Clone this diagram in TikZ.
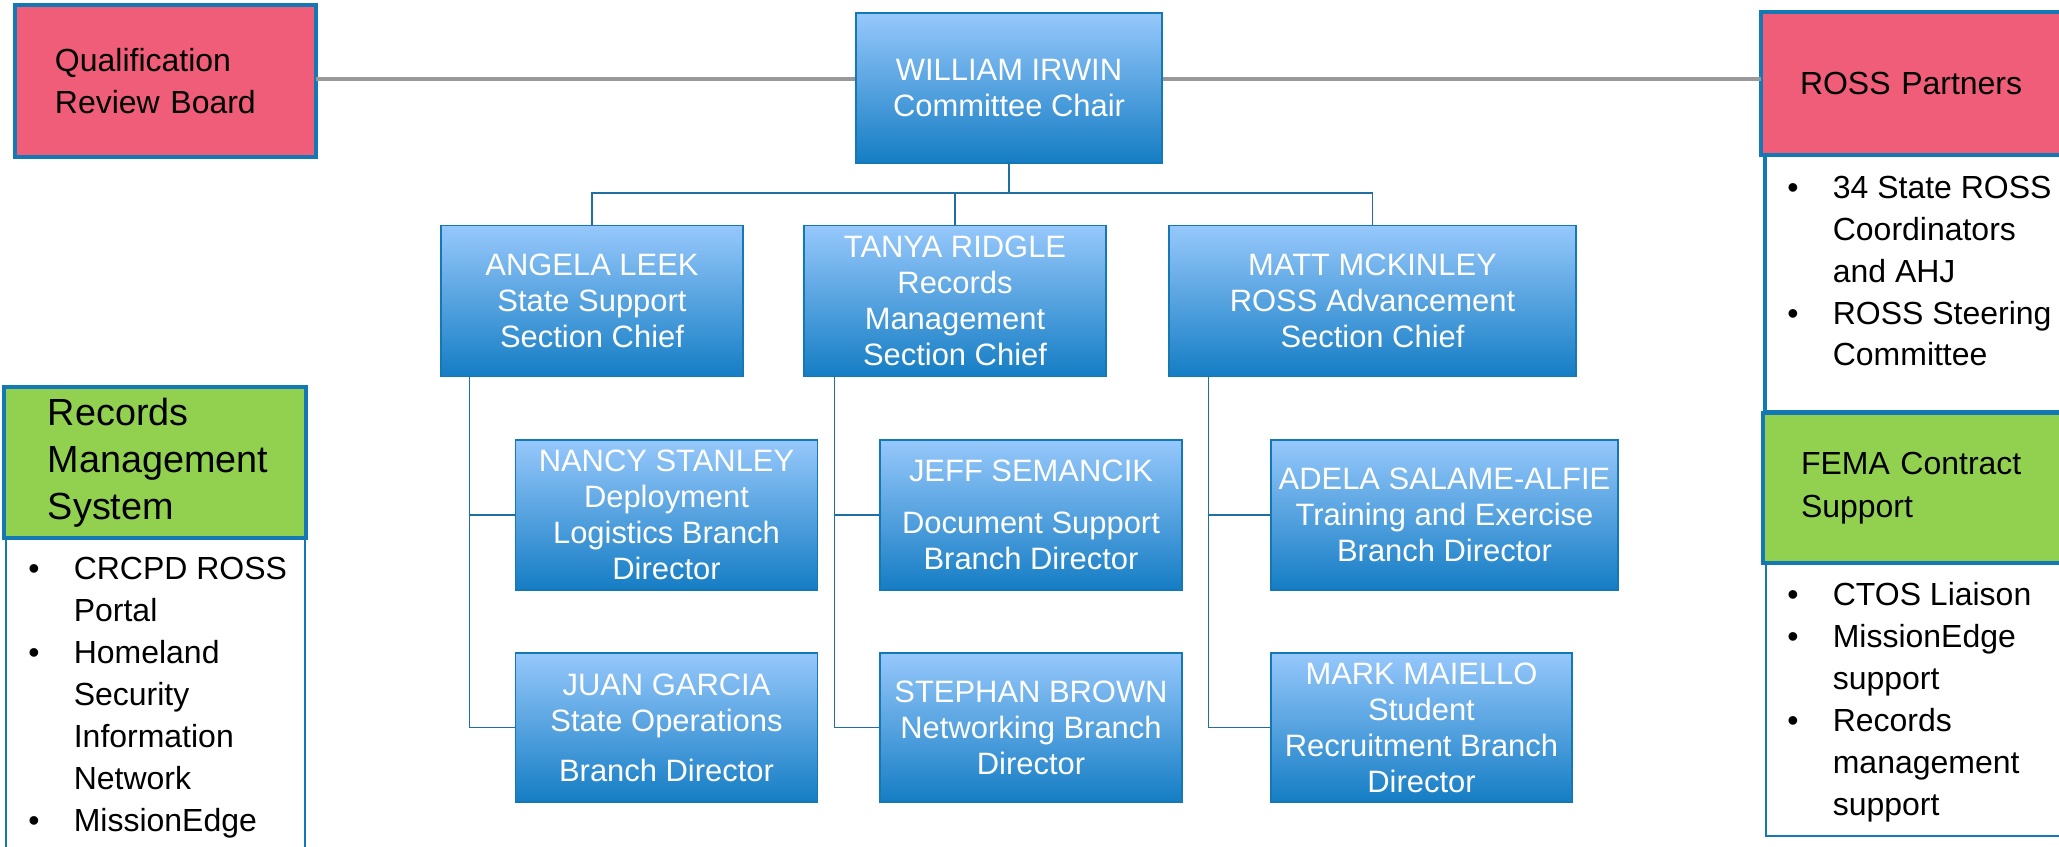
\documentclass[tikz,border=0pt]{standalone}
\usepackage{fontspec}
\setmainfont{Liberation Sans}
\definecolor{pinkbox}{HTML}{EF5D78}
\definecolor{greenbox}{HTML}{92D050}
\definecolor{frameblue}{HTML}{1478B4}
\definecolor{bluetop}{HTML}{96C8FB}
\definecolor{bluebot}{HTML}{157DC4}
\definecolor{linkblue}{HTML}{1F6FA3}
\definecolor{barline}{HTML}{999999}
\newcommand{\bul}{\makebox[0.91cm][l]{\textbullet}}
\newcommand{\ind}{\hspace*{0.91cm}}

\begin{document}
\begin{tikzpicture}[x=0.02cm,y=-0.02cm,
    link/.style={draw=linkblue, line width=1pt},
    grayline/.style={draw=barline, line width=2.3pt},
    listtext/.style={anchor=base west, align=left, inner sep=0pt,
      font=\fontsize{18.2}{23.9}\selectfont}]

  \useasboundingbox (0,0) rectangle (2059,847);
  \clip (0,0) rectangle (2059,847);

  % side boxes
  \begin{scope}[every node/.style={draw=frameblue, line width=2pt, anchor=north west,
      outer sep=0pt, inner ysep=0pt, align=left, font=\fontsize{18.2}{23.6}\selectfont}]
    \node (rosslist) at (1765,155) [fill=white, minimum width=6.2cm, minimum height=5.14cm] {};
    \node (femalist) at (1766,563) [fill=white, line width=0.8pt, minimum width=6.2cm, minimum height=5.46cm] {};
    \node (rmslist)  at (6,538)    [fill=white, line width=0.8pt, minimum width=5.98cm, minimum height=6.8cm] {};
    \node (qrb)  at (15,5)    [fill=pinkbox, minimum width=6.02cm, minimum height=3.04cm,
      inner xsep=0.8cm, text width=4.42cm] {Qualification\\Review Board};
    \node (ross) at (1761,12) [fill=pinkbox, minimum width=6.2cm, minimum height=2.86cm,
      inner xsep=0.78cm, text width=4.64cm] {ROSS Partners};
    \node (fema) at (1763,413) [fill=greenbox, minimum width=6.2cm, minimum height=3cm,
      inner xsep=0.76cm, text width=4.68cm, font=\fontsize{18.2}{24.5}\selectfont] {FEMA Contract\\Support};
    \node (rms)  at (4,387)   [fill=greenbox, minimum width=6.04cm, minimum height=3.02cm,
      inner xsep=0.88cm, text width=4.28cm, font=\fontsize{21.5}{26.7}\selectfont] {Records\\Management\\System};
  \end{scope}

  % bullet lists (anchored at the last line)
  \node[listtext] (rossitems) at (1787,366) {\bul 34 State ROSS\\\ind Coordinators\\\ind and AHJ\\
    \bul ROSS Steering\\\ind Committee};
  \node[listtext] (femaitems) at (1787,815) {\bul CTOS Liaison\\\bul MissionEdge\\\ind support\\
    \bul Records\\\ind management\\\ind support};
  \node[listtext] (rmsitems) at (28,831) {\bul CRCPD ROSS\\\ind Portal\\\bul Homeland\\\ind Security\\
    \ind Information\\\ind Network\\\bul MissionEdge};

  % org chart
  \begin{scope}[every node/.style={draw=frameblue, line width=0.7pt, top color=bluetop,
      bottom color=bluebot, text=white, align=center, inner sep=0pt,
      minimum width=6.04cm, minimum height=3.02cm, font=\fontsize{17.6}{20.5}\selectfont}]
    \node (chair)    at (1009,88)     [minimum width=6.12cm, minimum height=3cm] {WILLIAM IRWIN\\Committee Chair};
    \node (leek)     at (592,301)     {ANGELA LEEK\\State Support\\Section Chief};
    \node (ridgle)   at (955,301)     {TANYA RIDGLE\\Records\\Management\\Section Chief};
    \node (mckinley) at (1372.5,301)  [minimum width=8.14cm] {MATT MCKINLEY\\ROSS Advancement\\Section Chief};
    \node (stanley)  at (666.5,515)   [minimum height=3cm] {NANCY STANLEY\\Deployment\\Logistics Branch\\Director};
    \node (garcia)   at (666.5,727.5) [minimum height=2.98cm] {JUAN GARCIA\\State Operations\\[0.28cm]Branch Director};
    \node (semancik) at (1031,515)    [minimum height=3cm] {JEFF SEMANCIK\\[0.32cm]Document Support\\Branch Director};
    \node (brown)    at (1031,727.5)  [minimum height=2.98cm] {STEPHAN BROWN\\Networking Branch\\Director};
    \node (salame)   at (1444.5,515)  [minimum width=6.94cm, minimum height=3cm] {ADELA SALAME-ALFIE\\Training and Exercise\\Branch Director};
    \node (maiello)  at (1421.5,727.5) [minimum width=6.02cm, minimum height=2.98cm] {MARK MAIELLO\\Student\\Recruitment Branch\\Director};
  \end{scope}

  % connectors
  \coordinate (topline) at (0,79);
  \coordinate (bar) at (1009,193);
  \draw[grayline] (qrb.east |- topline) -- (chair.west |- topline);
  \draw[grayline] (chair.east |- topline) -- (ross.west |- topline);
  \draw[link] (chair.south) -- (bar);
  \draw[link] (leek.north) |- (bar) -| (mckinley.north);
  \draw[link] (ridgle.north) -- (ridgle.north |- bar);
  \draw[link] ([xshift=0.58cm]leek.south west) |- (stanley.west);
  \draw[link] ([xshift=0.58cm]leek.south west) |- (garcia.west);
  \draw[link] ([xshift=0.62cm]ridgle.south west) |- (semancik.west);
  \draw[link] ([xshift=0.62cm]ridgle.south west) |- (brown.west);
  \draw[link] ([xshift=0.8cm]mckinley.south west) |- (salame.west);
  \draw[link] ([xshift=0.8cm]mckinley.south west) |- (maiello.west);

\end{tikzpicture}
\end{document}
